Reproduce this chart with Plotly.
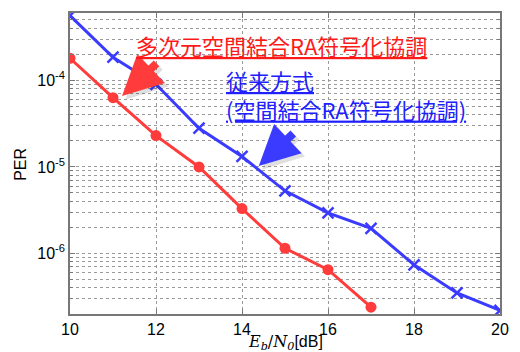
import plotly.graph_objects as go
import math

# Data
snr_prop = [10, 11, 12, 13, 14, 15, 16, 17]
per_prop = [1.8e-4, 6.3e-5, 2.3e-5, 1.0e-5, 3.3e-6, 1.15e-6, 6.5e-7, 2.4e-7]
snr_conv = [10, 11, 12, 13, 14, 15, 16, 17, 18, 19, 20]
per_conv = [5.6e-4, 1.85e-4, 9.0e-5, 2.8e-5, 1.32e-5, 5.3e-6, 2.95e-6, 1.95e-6, 7.4e-7, 3.5e-7, 2.2e-7]
x_ticks = [10, 12, 14, 16, 18, 20]
y_ticks = [1e-6, 1e-5, 1e-4]
y_ticktext = ["10<sup>-6</sup>", "10<sup>-5</sup>", "10<sup>-4</sup>"]
label_prop = "多次元空間結合RA符号化協調"
label_conv1 = "従来方式"
label_conv2 = "(空間結合RA符号化協調)"
x_title = '<span style="font-family:DejaVu Serif"><i>E<sub>b</sub></i>/<i>N<sub>0</sub></i></span>[dB]'
y_title = "PER"

RED = "#ff3b3b"
BLUE = "#3b3bff"
sans = "Liberation Sans, Arial, sans-serif"
jp = "Noto Sans CJK JP"

minor_vals = [m * 10.0 ** e for e in range(-7, -3) for m in range(2, 10)]

fig = go.Figure()
fig.add_trace(go.Scatter(x=snr_conv, y=per_conv, mode="lines+markers",
                         line=dict(color=BLUE, width=3),
                         marker=dict(symbol="x-thin", size=11, line=dict(color=BLUE, width=2.5)),
                         showlegend=False))
fig.add_trace(go.Scatter(x=snr_prop, y=per_prop, mode="lines+markers",
                         line=dict(color=RED, width=3),
                         marker=dict(symbol="circle", size=11, color=RED),
                         showlegend=False))

gridc = "#9a9a9a"
fig.update_xaxes(range=[10, 20], tickvals=x_ticks, showgrid=True, gridcolor=gridc,
                 griddash="dot", gridwidth=1, showline=True, linecolor="#777", linewidth=1.5,
                 mirror="ticks", ticks="inside", ticklen=5, tickcolor="#777",
                 tickfont=dict(family=sans, size=16, color="black"), zeroline=False)
fig.update_yaxes(type="log", range=[math.log10(2e-7), math.log10(6e-4)],
                 tickvals=y_ticks, ticktext=y_ticktext, showgrid=True, gridcolor=gridc,
                 griddash="dot", gridwidth=1, showline=True, linecolor="#777", linewidth=1.5,
                 mirror="ticks", ticks="inside", ticklen=5, tickcolor="#777",
                 minor=dict(tickmode="array", tickvals=minor_vals, ticks="inside", ticklen=3,
                            tickcolor="#777", showgrid=True,
                            gridcolor=gridc, griddash="dot", gridwidth=1),
                 tickfont=dict(family=sans, size=16, color="black"), zeroline=False)

anns = []
# arrows (shadow + arrow)
for (tx, ty, col) in [(11.21, -4.18, RED), (14.39, -4.99, BLUE)]:
    anns.append(dict(x=tx + 0.08, y=ty - 0.04, xref="x", yref="y", ax=36, ay=-34, showarrow=True,
                     arrowhead=2, arrowsize=1.0, arrowwidth=8, arrowcolor="rgba(0,0,0,0.12)", text=""))
    anns.append(dict(x=tx, y=ty, xref="x", yref="y", ax=36, ay=-34, showarrow=True,
                     arrowhead=2, arrowsize=1.0, arrowwidth=8, arrowcolor=col, text=""))
anns.append(dict(x=135, y=43, text="<u>" + label_prop + "</u>",
                 showarrow=False, xanchor="left", yanchor="middle",
                 font=dict(family=jp, size=22, color="#ff1a1a")))
anns.append(dict(x=226, y=93, text="<u>" + label_conv1 + "</u><br><u>" + label_conv2 + "</u>",
                 showarrow=False, align="left", xanchor="left", yanchor="middle",
                 font=dict(family=jp, size=22, color="#2020ff")))
anns.append(dict(x=289, y=343, text=x_title, showarrow=False, xanchor="center", yanchor="middle",
                 font=dict(family=sans, size=16, color="black")))
anns.append(dict(x=20, y=163, text=y_title, showarrow=False, xanchor="center", yanchor="middle",
                 textangle=-90, font=dict(family=sans, size=16, color="black")))

W, H = 520, 352
ml, mr, mt, mb = 70, 13, 11, 38
pw, ph = W - ml - mr, H - mt - mb
for a in anns:
    if a.get("xref") != "x":
        a["xref"] = "paper"; a["yref"] = "paper"
        a["x"] = (a["x"] - ml) / pw
        a["y"] = 1 - (a["y"] - mt) / ph

fig.update_layout(width=W, height=H, margin=dict(l=ml, r=mr, t=mt, b=mb),
                  plot_bgcolor="white", paper_bgcolor="white", annotations=anns)
fig.write_html("out.html", config={"displayModeBar": False},
               post_script="document.body.style.margin='0';document.body.style.overflow='hidden';")
